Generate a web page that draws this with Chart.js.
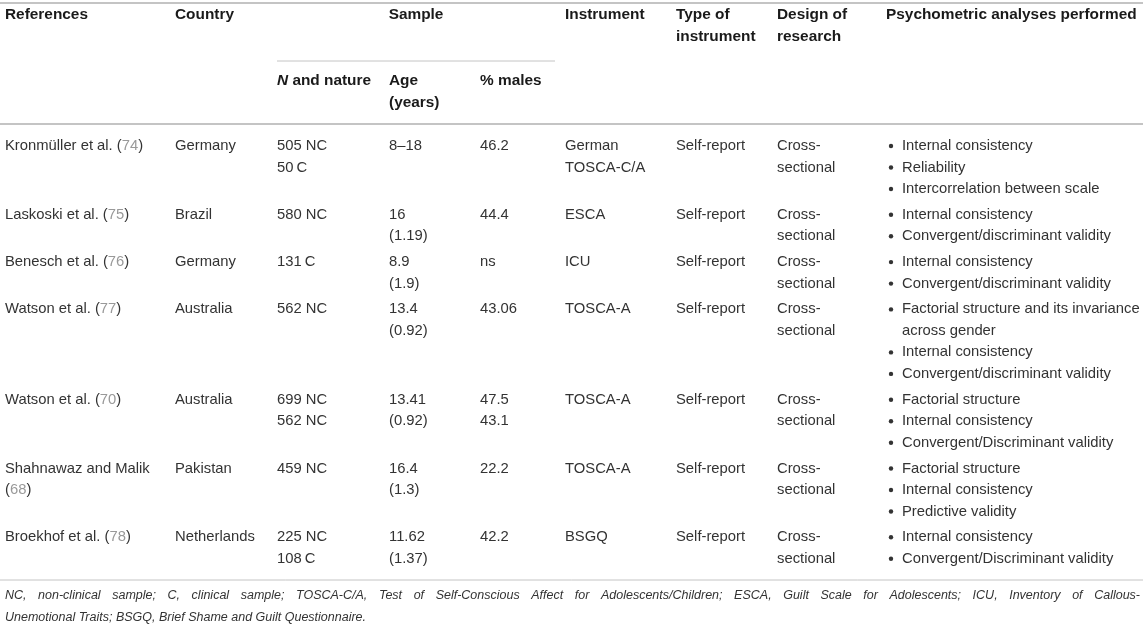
<!DOCTYPE html>
<html>
<head>
<meta charset="utf-8">
<script src="https://cdn.jsdelivr.net/npm/chart.js@4"></script>
<style>
  html, body { margin: 0; padding: 0; background: #fff; }
  .graph { width: 1143px; height: 628px; position: relative; }
</style>
</head>
<body>
<div class="graph"><canvas id="table"></canvas></div>
<script>
// table content
const references = [
    "Kronmüller et al. (74)",
    "Laskoski et al. (75)",
    "Benesch et al. (76)",
    "Watson et al. (77)",
    "Watson et al. (70)",
    "Shahnawaz and Malik\n(68)",
    "Broekhof et al. (78)"
];
const countries = ["Germany", "Brazil", "Germany", "Australia", "Australia", "Pakistan", "Netherlands"];
const sampleN = ["505 NC\n50\u2009C", "580 NC", "131\u2009C", "562 NC", "699 NC\n562 NC", "459 NC", "225 NC\n108\u2009C"];
const ages = ["8–18", "16\n(1.19)", "8.9\n(1.9)", "13.4\n(0.92)", "13.41\n(0.92)", "16.4\n(1.3)", "11.62\n(1.37)"];
const malesPct = ["46.2", "44.4", "ns", "43.06", "47.5\n43.1", "22.2", "42.2"];
const instruments = ["German\nTOSCA-C/A", "ESCA", "ICU", "TOSCA-A", "TOSCA-A", "TOSCA-A", "BSGQ"];
const instrumentTypes = ["Self-report", "Self-report", "Self-report", "Self-report", "Self-report", "Self-report", "Self-report"];
const designs = ["Cross-\nsectional", "Cross-\nsectional", "Cross-\nsectional", "Cross-\nsectional", "Cross-\nsectional", "Cross-\nsectional", "Cross-\nsectional"];
const analyses = [
    ["Internal consistency", "Reliability", "Intercorrelation between scale"],
    ["Internal consistency", "Convergent/discriminant validity"],
    ["Internal consistency", "Convergent/discriminant validity"],
    ["Factorial structure and its invariance\nacross gender", "Internal consistency", "Convergent/discriminant validity"],
    ["Factorial structure", "Internal consistency", "Convergent/Discriminant validity"],
    ["Factorial structure", "Internal consistency", "Predictive validity"],
    ["Internal consistency", "Convergent/Discriminant validity"]
];
const headers = ["References", "Country", "Sample", "Instrument", "Type of\ninstrument", "Design of\nresearch", "Psychometric analyses performed"];
const subHeaders = ["N and nature", "Age\n(years)", "% males"];
const footnoteLines = [
    "NC, non-clinical sample; C, clinical sample; TOSCA-C/A, Test of Self-Conscious Affect for Adolescents/Children; ESCA, Guilt Scale for Adolescents; ICU, Inventory of Callous-",
    "Unemotional Traits; BSGQ, Brief Shame and Guilt Questionnaire."
];

// layout
const FONT = "'Liberation Sans', Arial, sans-serif";
const HEAD_SIZE = 15.4;
const BODY_SIZE = 14.8;
const col = { ref: 5, country: 175, n: 277, age: 389, males: 480, instr: 565, type: 676, design: 777, an: 886 };
const sampleEnd = 555;
const lineH = 21.5;
const rowGap = 4.3;
const bodyTop = 146;
const textColor = "#333";
const headColor = "#1a1a1a";
const refColor = "#999";
const ruleColor = "#c4c4c4";

const linesOf = s => s.split("\n");

const rowLines = references.map((_, i) => Math.max(
    linesOf(references[i]).length,
    linesOf(sampleN[i]).length,
    linesOf(ages[i]).length,
    linesOf(malesPct[i]).length,
    linesOf(instruments[i]).length,
    linesOf(designs[i]).length,
    analyses[i].reduce((sum, item) => sum + linesOf(item).length, 0)
));

const rowStarts = [];
let acc = bodyTop;
for (const n of rowLines) {
    rowStarts.push(acc);
    acc += n * lineH + rowGap;
}

const drawRef = (ctx, text, x, y) => {
    // "(74)" -> parentheses normal, digits gray
    let cx = x;
    const parts = text.split(/(\d+)(?=\))/);
    parts.forEach((part, k) => {
        ctx.fillStyle = k % 2 === 1 ? refColor : textColor;
        ctx.fillText(part, cx, y);
        cx += ctx.measureText(part).width;
    });
};

const tablePlugin = {
    id: 'tableDraw',
    afterDraw(chart) {
        const ctx = chart.ctx;
        const xs = chart.scales.x;
        const ys = chart.scales.y;
        const px = v => xs.getPixelForValue(v);
        const py = v => ys.getPixelForValue(v);

        ctx.save();
        ctx.textBaseline = 'middle';
        ctx.textAlign = 'left';

        const rule = (x0, x1, y, w) => {
            ctx.strokeStyle = ruleColor;
            ctx.lineWidth = w;
            ctx.beginPath();
            ctx.moveTo(px(x0), py(y));
            ctx.lineTo(px(x1), py(y));
            ctx.stroke();
        };
        rule(0, 1143, 3, 2);
        rule(col.n, sampleEnd, 61, 1);
        rule(0, 1143, 124, 2);
        rule(0, 1143, 580, 1);

        const block = (text, x, y, color) => {
            ctx.fillStyle = color;
            linesOf(text).forEach((line, k) => ctx.fillText(line, px(x), py(y + k * lineH)));
        };

        // header
        ctx.font = `bold ${HEAD_SIZE}px ${FONT}`;
        const headX = [col.ref, col.country, null, col.instr, col.type, col.design, col.an];
        headers.forEach((h, i) => {
            if (headX[i] === null) {
                ctx.fillStyle = headColor;
                ctx.textAlign = 'center';
                ctx.fillText(h, px((col.n + sampleEnd) / 2), py(15));
                ctx.textAlign = 'left';
            } else {
                block(h, headX[i], 15, headColor);
            }
        });
        // sub header, N in italic
        ctx.fillStyle = headColor;
        ctx.font = `italic bold ${HEAD_SIZE}px ${FONT}`;
        ctx.fillText("N", px(col.n), py(81));
        const nW = ctx.measureText("N").width;
        ctx.font = `bold ${HEAD_SIZE}px ${FONT}`;
        ctx.fillText(subHeaders[0].slice(1), px(col.n) + nW, py(81));
        block(subHeaders[1], col.age, 81, headColor);
        block(subHeaders[2], col.males, 81, headColor);

        // body
        ctx.font = `${BODY_SIZE}px ${FONT}`;
        rowStarts.forEach((y0, i) => {
            linesOf(references[i]).forEach((line, k) => drawRef(ctx, line, px(col.ref), py(y0 + k * lineH)));
            block(countries[i], col.country, y0, textColor);
            block(sampleN[i], col.n, y0, textColor);
            block(ages[i], col.age, y0, textColor);
            block(malesPct[i], col.males, y0, textColor);
            block(instruments[i], col.instr, y0, textColor);
            block(instrumentTypes[i], col.type, y0, textColor);
            block(designs[i], col.design, y0, textColor);
            let ly = y0;
            for (const item of analyses[i]) {
                ctx.fillStyle = textColor;
                ctx.beginPath();
                ctx.arc(px(col.an + 5), py(ly), 2.2, 0, Math.PI * 2);
                ctx.fill();
                block(item, col.an + 16, ly, textColor);
                ly += linesOf(item).length * lineH;
            }
        });

        // footnote, first line justified
        ctx.font = `italic 12.5px ${FONT}`;
        ctx.fillStyle = textColor;
        const left = px(5), right = px(1140);
        const words = footnoteLines[0].split(" ");
        const wordsW = words.reduce((s, w) => s + ctx.measureText(w).width, 0);
        const gap = (right - left - wordsW) / (words.length - 1);
        let fx = left;
        for (const w of words) {
            ctx.fillText(w, fx, py(596));
            fx += ctx.measureText(w).width + gap;
        }
        ctx.fillText(footnoteLines[1], left, py(618));

        ctx.restore();
    }
};

new Chart(document.getElementById('table'), {
    type: 'scatter',
    data: { datasets: [] },
    options: {
        responsive: true,
        maintainAspectRatio: false,
        animation: false,
        layout: { padding: 0 },
        plugins: { legend: { display: false }, tooltip: { enabled: false } },
        scales: {
            x: { type: 'linear', min: 0, max: 1143, display: false },
            y: { type: 'linear', min: 0, max: 628, reverse: true, display: false }
        }
    },
    plugins: [tablePlugin]
});
</script>
</body>
</html>
